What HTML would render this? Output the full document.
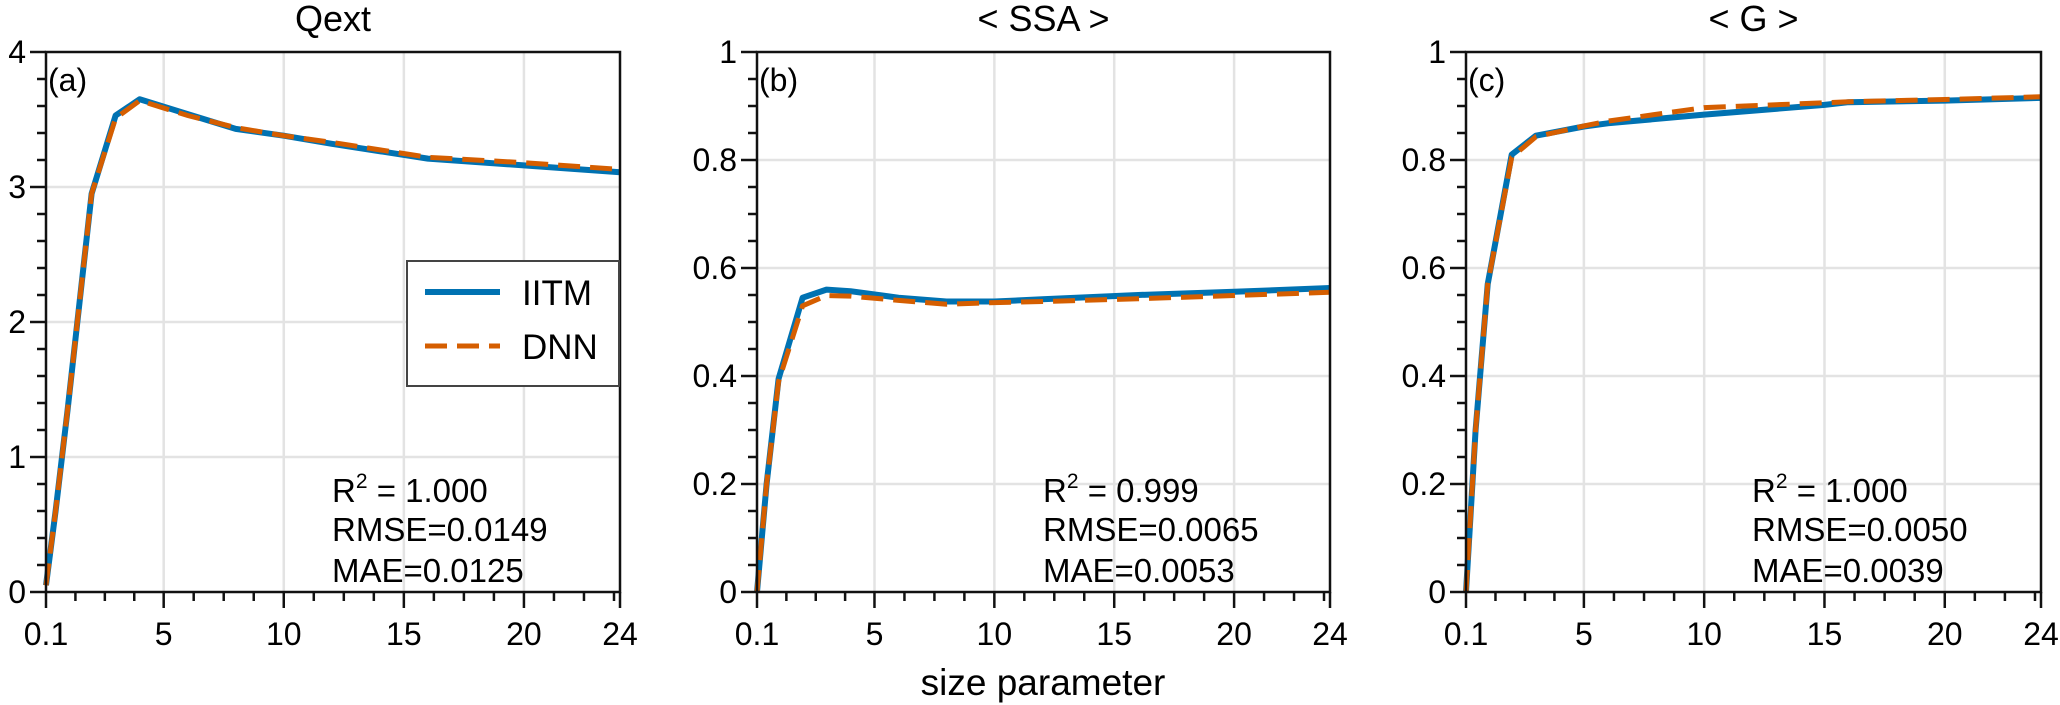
<!DOCTYPE html>
<html><head><meta charset="utf-8"><style>
html,body{margin:0;padding:0;background:#fff;}
svg{display:block;font-family:"Liberation Sans",sans-serif;}
</style></head><body>
<svg id="s" width="2060" height="705" viewBox="0 0 2060 705" xmlns="http://www.w3.org/2000/svg"></svg>
<script>
const S=document.getElementById('s');let h='';
const T=592,Tp=52;
const panels=[
 {L:46,R:620,ymax:4,major:1,minor:0.2,fmt:v=>v.toFixed(0),title:'Qext',lab:'(a)',
  a:[[0.1,0.05],[0.5,0.6],[1,1.35],[2,2.95],[3,3.53],[4,3.65],[6,3.54],[8,3.43],[10,3.38],[12,3.32],[16,3.21],[20,3.16],[24,3.11]],
  b:[[0.1,0.05],[0.5,0.6],[1,1.35],[2,2.95],[3,3.51],[4,3.64],[6,3.53],[8,3.44],[10,3.38],[12,3.33],[16,3.22],[20,3.18],[24,3.13]],
  st:['1.000','0.0149','0.0125']},
 {L:757,R:1330,ymax:1,major:0.2,minor:0.05,fmt:v=>v===0||v===1?v.toFixed(0):v.toFixed(1),title:'&lt; SSA &gt;',lab:'(b)',
  a:[[0.1,0],[0.5,0.2],[1,0.395],[2,0.545],[3,0.56],[4,0.557],[6,0.545],[8,0.538],[10,0.538],[12,0.542],[16,0.55],[20,0.556],[24,0.563]],
  b:[[0.1,0],[0.5,0.2],[1,0.39],[2,0.53],[3,0.549],[4,0.548],[6,0.54],[8,0.533],[10,0.536],[12,0.538],[16,0.543],[20,0.549],[24,0.555]],
  st:['0.999','0.0065','0.0053']},
 {L:1466,R:2041,ymax:1,major:0.2,minor:0.05,fmt:v=>v===0||v===1?v.toFixed(0):v.toFixed(1),title:'&lt; G &gt;',lab:'(c)',
  a:[[0.1,0],[0.5,0.3],[1,0.57],[2,0.81],[3,0.845],[5,0.862],[6,0.868],[10,0.884],[15,0.902],[16,0.907],[20,0.91],[24,0.915]],
  b:[[0.1,0],[0.5,0.3],[1,0.57],[2,0.805],[3,0.843],[5,0.863],[6,0.872],[10,0.897],[15,0.906],[16,0.908],[20,0.912],[24,0.917]],
  st:['1.000','0.0050','0.0039']}
];
panels.forEach(p=>{
 const X=x=>p.L+(x-0.1)*(p.R-p.L)/23.9, Y=y=>T-y*(T-Tp)/p.ymax;
 [5,10,15,20].forEach(v=>h+=`<line x1="${X(v)}" x2="${X(v)}" y1="${Tp}" y2="${T}" stroke="#e3e3e3" stroke-width="2.5"/>`);
 for(let v=p.major;v<p.ymax-1e-9;v+=p.major)h+=`<line x1="${p.L}" x2="${p.R}" y1="${Y(v)}" y2="${Y(v)}" stroke="#e3e3e3" stroke-width="2.5"/>`;
 const pts=a=>a.map(q=>X(q[0]).toFixed(1)+','+Y(q[1]).toFixed(1)).join(' ');
 h+=`<polyline points="${pts(p.a)}" fill="none" stroke="#0072b2" stroke-width="6" stroke-linejoin="round"/>`;
 h+=`<polyline points="${pts(p.b)}" fill="none" stroke="#d55e00" stroke-width="5" stroke-dasharray="22,10"/>`;
 h+=`<rect x="${p.L}" y="${Tp}" width="${p.R-p.L}" height="${T-Tp}" fill="none" stroke="#111" stroke-width="2.5"/>`;
 const nmin=Math.round(p.ymax/p.minor);
 for(let i=0;i<=nmin;i++){const v=i*p.minor;const maj=Math.abs(v/p.major-Math.round(v/p.major))<1e-6;
  h+=`<line x1="${p.L-(maj?16:9)}" x2="${p.L}" y1="${Y(v)}" y2="${Y(v)}" stroke="#111" stroke-width="2.5"/>`;
  if(maj)h+=`<text x="${p.L-20}" y="${Y(v)+11}" font-size="32" text-anchor="end">${p.fmt(v)}</text>`;}
 const xm=[0.1,5,10,15,20,24];
 xm.forEach((v,i)=>{h+=`<line x1="${X(v)}" x2="${X(v)}" y1="${T}" y2="${T+16}" stroke="#111" stroke-width="2.5"/>`;
  h+=`<text x="${X(v)}" y="${T+53}" font-size="32" text-anchor="middle">${v}</text>`;
  if(i<5){const n=xm[i+1];const st=(i<4)?(n-v)/4:1.25;for(let k=1;v+k*st<n-0.1;k++){const xx=X(v+k*st);h+=`<line x1="${xx}" x2="${xx}" y1="${T}" y2="${T+9}" stroke="#111" stroke-width="2.5"/>`;}}
 });
 h+=`<text x="${(p.L+p.R)/2}" y="31" font-size="36" text-anchor="middle">${p.title}</text>`;
 h+=`<text x="${p.L+2}" y="91" font-size="32">${p.lab}</text>`;
 const sx=p.L+286;
 h+=`<text x="${sx}" y="502" font-size="33">R<tspan font-size="21" dy="-14">2</tspan><tspan dy="14"> = ${p.st[0]}</tspan></text>`;
 h+=`<text x="${sx}" y="541" font-size="33">RMSE=${p.st[1]}</text>`;
 h+=`<text x="${sx}" y="582" font-size="33">MAE=${p.st[2]}</text>`;
});
h+=`<rect x="407" y="261" width="212" height="125" fill="#fff" stroke="#444" stroke-width="2"/>`;
h+=`<line x1="425" x2="500" y1="292" y2="292" stroke="#0072b2" stroke-width="6"/>`;
h+=`<line x1="425" x2="500" y1="346" y2="346" stroke="#d55e00" stroke-width="5" stroke-dasharray="22,10"/>`;
h+=`<text x="522" y="305" font-size="35">IITM</text><text x="522" y="359" font-size="35">DNN</text>`;
h+=`<text x="1043" y="695" font-size="37" text-anchor="middle">size parameter</text>`;
S.innerHTML=h;
</script>
</body></html>
